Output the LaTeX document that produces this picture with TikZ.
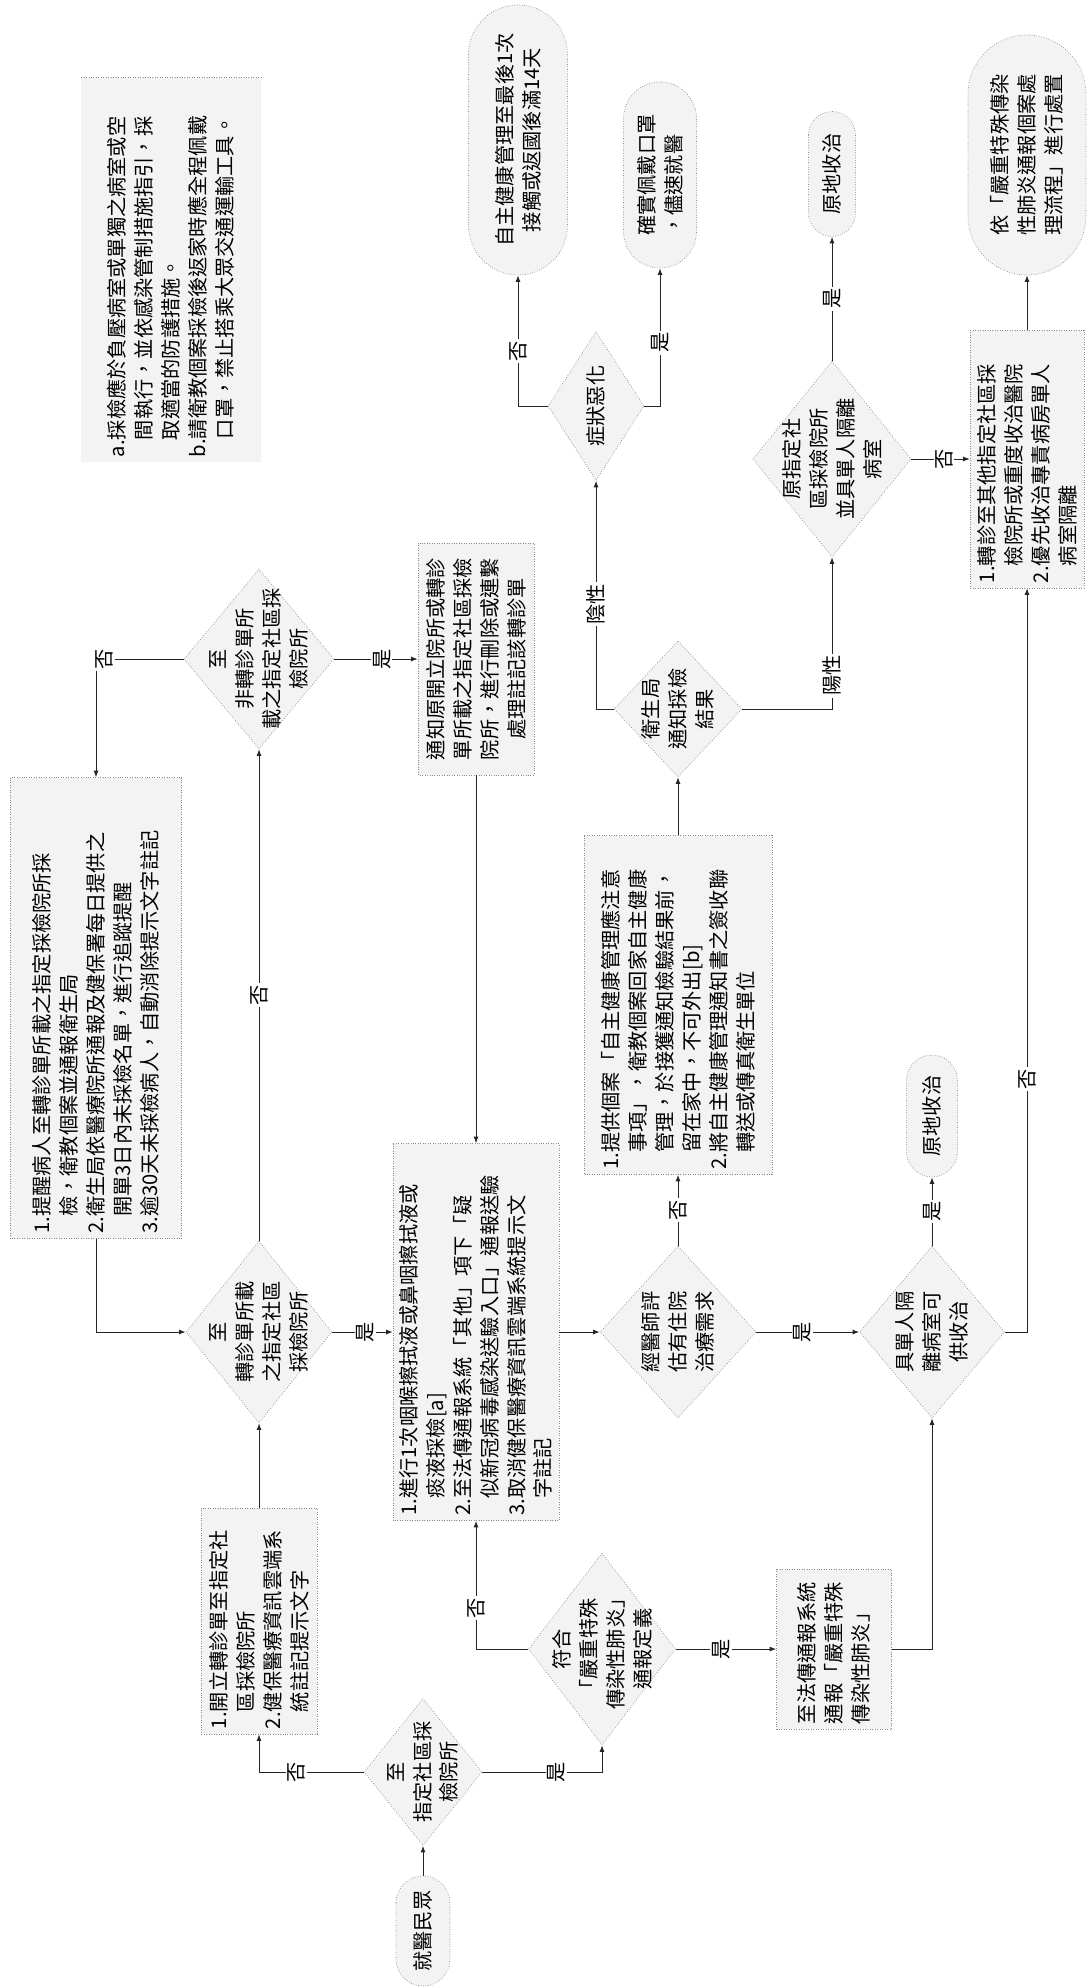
\documentclass[tikz,border=0pt]{standalone}
\usepackage{fontspec}
\setmainfont{Noto Sans CJK TC}
\usetikzlibrary{arrows.meta,shapes.geometric}
\definecolor{boxfill}{HTML}{F3F3F3}
\definecolor{boxline}{HTML}{8A8A8A}

\begin{document}
\begin{tikzpicture}[x=0.2mm,y=-0.2mm,
  every node/.style={rotate=90,font=\fontsize{11.5}{15.3}\selectfont},
  box/.style={draw=boxline,densely dotted,fill=boxfill,align=left,inner sep=1mm},
  term/.style={draw=boxline,densely dotted,fill=boxfill,align=center,inner sep=1mm},
  dia/.style={draw=boxline,densely dotted,fill=boxfill,diamond,inner sep=0pt},
  dtext/.style={align=center,inner sep=0pt},
  lab/.style={fill=white,inner sep=1pt},
  flow/.style={draw=black!85,line width=0.5pt,-{Latex[length=1.3mm,width=1mm]}}]
\useasboundingbox (0,0) rectangle (1089,1987);

% notes
\node[box,draw=none,text width=74.8mm,minimum height=35.8mm] (notes) at (171,270) {a.採檢應於負壓病室或單獨之病室或空\\\hphantom{a.}間執行，並依感染管制措施指引，採\\\hphantom{a.}取適當的防護措施。\\b.請衛教個案採檢後返家時應全程佩戴\\\hphantom{b.}口罩，禁止搭乘大眾交通運輸工具。};
\draw[boxline,densely dotted] (notes.north east) -- (notes.south east);

% start and first checks
\node[term,minimum width=22mm,minimum height=10.8mm,rounded corners=5.4mm] (start) at (423,1931) {就醫民眾};
\node[dia,minimum width=29.4mm,minimum height=23.6mm] (askSite) at (423,1772) {};
\node[dtext] at (askSite) {至\\指定社區採\\檢院所};
\node[box,text width=43.2mm,minimum height=23.2mm] (referBox) at (259,1621) {1.開立轉診單至指定社\\\hphantom{1.}區採檢院所\\2.健保醫療資訊雲端系\\\hphantom{1.}統註記提示文字};
\node[dia,minimum width=36.4mm,minimum height=29.2mm] (askRef) at (259,1332) {};
\node[dtext] at (askRef) {至\\轉診單所載\\之指定社區\\採檢院所};
\node[dia,minimum width=36mm,minimum height=30mm] (askOther) at (259,659) {};
\node[dtext] at (askOther) {至\\非轉診單所\\載之指定社區採\\檢院所};
\node[box,text width=90.2mm,minimum height=34.2mm] (remindBox) at (96,1008) {1.提醒病人至轉診單所載之指定採檢院所採\\\hphantom{1.}檢，衛教個案並通報衛生局\\2.衛生局依醫療院所通報及健保署每日提供之\\\hphantom{1.}開單3日內未採檢名單，進行追蹤提醒\\3.逾30天未採檢病人，自動消除提示文字註記};
\node[box,align=center,text width=44.4mm,minimum height=23.2mm] (notifyBox) at (476,659) {通知原開立院所或轉診\\單所載之指定社區採檢\\院所，進行刪除或連繫\\處理註記該轉診單};
\node[box,text width=73.4mm,minimum height=33.2mm] (sampleBox) at (476,1332) {1.進行1次咽喉擦拭液或鼻咽擦拭液或\\\hphantom{1.}痰液採檢[a]\\2.至法傳通報系統「其他」項下「疑\\\hphantom{1.}似新冠病毒感染送驗入口」通報送驗\\3.取消健保醫療資訊雲端系統提示文\\\hphantom{1.}字註記};

% reporting branch
\node[dia,minimum width=38.4mm,minimum height=29.4mm] (askDef) at (602,1649) {};
\node[dtext] at (askDef) {符合\\「嚴重特殊\\傳染性肺炎」\\通報定義};
\node[box,text width=30mm,minimum height=23mm] (reportBox) at (834,1649) {至法傳通報系統\\通報「嚴重特殊\\傳染性肺炎」};
\node[dia,minimum width=34.4mm,minimum height=31.2mm] (askAdmit) at (678,1332) {};
\node[dtext] at (askAdmit) {經醫師評\\估有住院\\治療需求};
\node[dia,minimum width=34.4mm,minimum height=29mm] (askSingle) at (932,1332) {};
\node[dtext] at (askSingle) {具單人隔\\離病室可\\供收治};
\node[term,minimum width=24.4mm,minimum height=10.2mm,rounded corners=5.1mm] (endStay2) at (932,1116) {原地收治};

% home isolation branch
\node[box,text width=65.8mm,minimum height=37.6mm] (homeBox) at (678,1005) {1.提供個案「自主健康管理應注意\\\hphantom{1.}事項」，衛教個案回家自主健康\\\hphantom{1.}管理，於接獲通知檢驗結果前，\\\hphantom{1.}留在家中，不可外出[b]\\2.將自主健康管理通知書之簽收聯\\\hphantom{1.}轉送或傳真衛生單位};
\node[dia,minimum width=27.2mm,minimum height=25.6mm] (askResult) at (678,709) {};
\node[dtext] at (askResult) {衛生局\\通知採檢\\結果};
\node[dia,minimum width=29.8mm,minimum height=19.2mm] (askWorse) at (596,406) {};
\node[dtext] at (askWorse) {症狀惡化};
\node[term,minimum width=54mm,minimum height=19.8mm,rounded corners=9.9mm] (endSelf) at (518,140) {自主健康管理至最後1次\\接觸或返國後滿14天};
\node[term,align=left,minimum width=37.2mm,minimum height=14.6mm,rounded corners=7.3mm] (endMask) at (660,175) {確實佩戴口罩\\，儘速就醫};
\node[dia,minimum width=39.2mm,minimum height=31.6mm] (askRoom) at (832,459) {};
\node[dtext] at (askRoom) {原指定社\\區採檢院所\\並具單人隔離\\病室};
\node[term,minimum width=25mm,minimum height=9.4mm,rounded corners=4.7mm] (endStay) at (832,174) {原地收治};
\node[box,text width=49.6mm,minimum height=22.8mm] (transferBox) at (1027,459) {1.轉診至其他指定社區採\\\hphantom{1.}檢院所或重度收治醫院\\2.優先收治專責病房單人\\\hphantom{1.}病室隔離};
\node[term,minimum width=48mm,minimum height=23.6mm,rounded corners=11.8mm] (endSevere) at (1027,155) {依「嚴重特殊傳染\\性肺炎通報個案處\\理流程」進行處置};

% connectors
\draw[flow] (start) -- (askSite);
\draw[flow] (askSite) -| node[lab,pos=0.32] {否} (referBox);
\draw[flow] (askSite) -| node[lab,pos=0.31] {是} (askDef);
\draw[flow] (referBox) -- (askRef);
\draw[flow] (askRef) -- node[lab,pos=0.55] {是} (sampleBox);
\draw[flow] (askRef) -- node[lab] {否} (askOther);
\draw[flow] (askOther) -| node[lab,pos=0.45] {否} (remindBox);
\draw[flow] (remindBox) |- (askRef);
\draw[flow] (askOther) -- node[lab,pos=0.57] {是} (notifyBox);
\draw[flow] (notifyBox) -- (sampleBox);
\draw[flow] (askDef) -| node[lab,pos=0.66] {否} (sampleBox);
\draw[flow] (askDef) -- node[lab,pos=0.45] {是} (reportBox);
\draw[flow] (reportBox) -| (askSingle);
\draw[flow] (sampleBox) -- (askAdmit);
\draw[flow] (askAdmit) -- node[lab,pos=0.45] {是} (askSingle);
\draw[flow] (askAdmit) -- node[lab] {否} (homeBox);
\draw[flow] (homeBox) -- (askResult);
\draw[flow] (askResult) -| node[lab,pos=0.73] {陰性} (askWorse);
\draw[flow] (askResult) -| node[lab,pos=0.61] {陽性} (askRoom);
\draw[flow] (askWorse) -| node[lab,pos=0.71] {否} (endSelf);
\draw[flow] (askWorse) -| node[lab,pos=0.73] {是} (endMask);
\draw[flow] (askRoom) -- node[lab] {是} (endStay);
\draw[flow] (askRoom) -- node[lab,pos=0.56] {否} (transferBox);
\draw[flow] (transferBox) -- (endSevere);
\draw[flow] (askSingle) -- node[lab] {是} (endStay2);
\draw[flow] (askSingle) -| node[lab,pos=0.67] {否} (transferBox);
\end{tikzpicture}
\end{document}
